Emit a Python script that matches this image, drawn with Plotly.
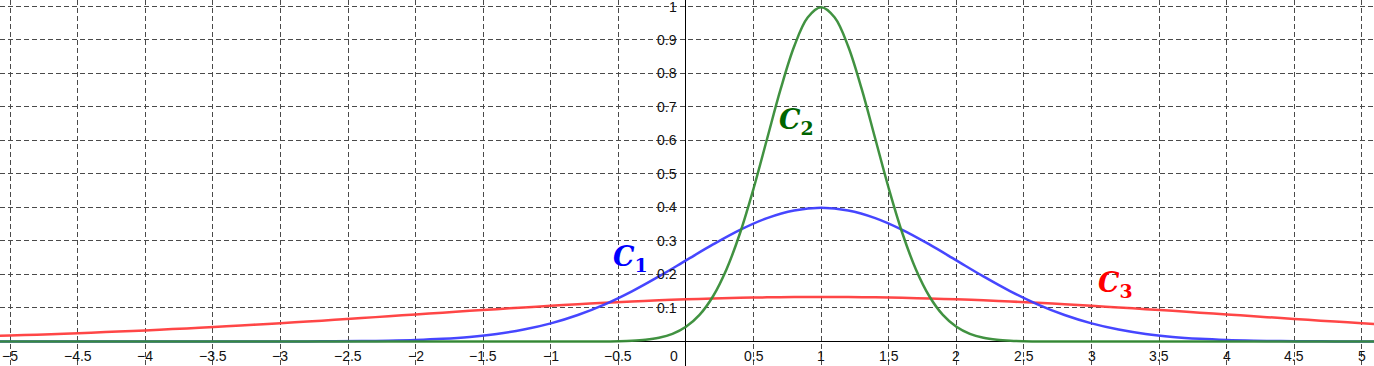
import plotly.graph_objects as go

# sample positions (x) and curve values
x_vals = [-5.2, -5.0, -4.8, -4.6, -4.4, -4.2, -4.0, -3.8, -3.6, -3.4,
          -3.2, -3.0, -2.8, -2.6, -2.4, -2.2, -2.0, -1.8, -1.6, -1.4,
          -1.2, -1.0, -0.8, -0.6, -0.4, -0.2, 0.0, 0.2, 0.4, 0.6,
          0.8, 1.0, 1.2, 1.4, 1.6, 1.8, 2.0, 2.2, 2.4, 2.6,
          2.8, 3.0, 3.2, 3.4, 3.6, 3.8, 4.0, 4.2, 4.4, 4.6,
          4.8, 5.0, 5.2]

c1_vals = [0, 0, 0, 0, 0, 0, 0, 0, 0, 0,
           0.0001, 0.0001, 0.0003, 0.0006, 0.0012, 0.0024, 0.0044, 0.0079, 0.0136, 0.0224,
           0.0355, 0.0540, 0.0790, 0.1109, 0.1497, 0.1942, 0.2420, 0.2897, 0.3332, 0.3683,
           0.3910, 0.3989, 0.3910, 0.3683, 0.3332, 0.2897, 0.2420, 0.1942, 0.1497, 0.1109,
           0.0790, 0.0540, 0.0355, 0.0224, 0.0136, 0.0079, 0.0044, 0.0024, 0.0012, 0.0006,
           0.0003, 0.0001, 0.0001]

c2_x = [-5.2, -1.0, -0.9, -0.8, -0.7, -0.6, -0.5, -0.4, -0.3, -0.2,
        -0.1, 0.0, 0.1, 0.2, 0.3, 0.4, 0.5, 0.6, 0.7, 0.8,
        0.9, 1.0, 1.1, 1.2, 1.3, 1.4, 1.5, 1.6, 1.7, 1.8,
        1.9, 2.0, 2.1, 2.2, 2.3, 2.4, 2.5, 2.6, 2.7, 2.8,
        2.9, 3.0, 5.2]

c2_vals = [0, 0, 0, 0, 0.0001, 0.0003, 0.0009, 0.0022, 0.0051, 0.0111,
           0.0227, 0.0438, 0.0793, 0.1350, 0.2157, 0.3238, 0.4566, 0.6049, 0.7528, 0.8802,
           0.9667, 0.9974, 0.9667, 0.8802, 0.7528, 0.6049, 0.4566, 0.3238, 0.2157, 0.1350,
           0.0793, 0.0438, 0.0227, 0.0111, 0.0051, 0.0022, 0.0009, 0.0003, 0.0001, 0,
           0, 0, 0]

c3_vals = [0.0157, 0.0180, 0.0205, 0.0233, 0.0263, 0.0296, 0.0332, 0.0370, 0.0410, 0.0454,
           0.0499, 0.0547, 0.0596, 0.0647, 0.0700, 0.0753, 0.0807, 0.0860, 0.0914, 0.0966,
           0.1016, 0.1065, 0.1111, 0.1154, 0.1193, 0.1228, 0.1258, 0.1284, 0.1304, 0.1318,
           0.1327, 0.1330, 0.1327, 0.1318, 0.1304, 0.1284, 0.1258, 0.1228, 0.1193, 0.1154,
           0.1111, 0.1065, 0.1016, 0.0966, 0.0914, 0.0860, 0.0807, 0.0753, 0.0700, 0.0647,
           0.0596, 0.0547, 0.0499]

x_ticks = [-5, -4.5, -4, -3.5, -3, -2.5, -2, -1.5, -1, -0.5,
           0.5, 1, 1.5, 2, 2.5, 3, 3.5, 4, 4.5, 5]
y_ticks = [0.1, 0.2, 0.3, 0.4, 0.5, 0.6, 0.7, 0.8, 0.9, 1]

curve_names = ["C1", "C2", "C3"]
curve_labels = ["C", "C", "C"]
curve_subs = ["1", "2", "3"]
label_x = [-0.41, 0.82, 3.18]
label_y = [0.249, 0.655, 0.169]

line_colors = ["rgba(60,60,255,0.95)", "rgba(55,140,55,0.95)", "rgba(255,60,60,0.95)"]
text_colors = ["#0000ff", "#006400", "#ff0000"]

fig = go.Figure()
xs = [x_vals, c2_x, x_vals]
series = [c1_vals, c2_vals, c3_vals]
order = [2, 0, 1]
for i in order:
    fig.add_trace(go.Scatter(
        x=xs[i], y=series[i], mode="lines", name=curve_names[i],
        line=dict(color=line_colors[i], width=2.5, shape="spline", smoothing=1.0),
        hoverinfo="skip", showlegend=False))

def fmt(v):
    s = ("%g" % abs(v))
    return ("\u2212" + s) if v < 0 else s

tick_font = dict(family="Liberation Sans, Arial, sans-serif", size=14, color="#111")
for v in x_ticks:
    fig.add_annotation(x=v, y=0, xref="x", yref="y", text=fmt(v), showarrow=False,
                       xanchor="center", yanchor="middle", yshift=-14, font=tick_font)
fig.add_annotation(x=0, y=0, xref="x", yref="y", text="0", showarrow=False,
                   xanchor="right", yanchor="middle", yshift=-14, xshift=-6, font=tick_font)
for v in y_ticks:
    fig.add_annotation(x=0, y=v, xref="x", yref="y", text=fmt(v), showarrow=False,
                       xanchor="right", yanchor="middle", xshift=-7,
                       yshift=(-1 if v == 1 else 0), font=tick_font)

for i in range(3):
    fig.add_annotation(x=label_x[i], y=label_y[i], xref="x", yref="y",
                       text="<b><i>%s</i></b><b><sub>%s</sub></b>" % (curve_labels[i], curve_subs[i]),
                       showarrow=False, xanchor="center", yanchor="middle",
                       font=dict(family="DejaVu Serif, serif", size=27,
                                 color=text_colors[i]))

grid_color = "#4a4a4a"
fig.update_xaxes(range=[-5.074, 5.089], dtick=0.5, tick0=0, showgrid=True,
                 gridcolor=grid_color, griddash="5px,3px", gridwidth=1,
                 zeroline=True, zerolinecolor="#000", zerolinewidth=1.3,
                 showticklabels=False, ticks="", showline=False, fixedrange=True)
fig.update_yaxes(range=[-0.0731, 1.019], dtick=0.1, tick0=0, showgrid=True,
                 gridcolor=grid_color, griddash="5px,3px", gridwidth=1,
                 zeroline=True, zerolinecolor="#000", zerolinewidth=1.3,
                 showticklabels=False, ticks="", showline=False, fixedrange=True)
fig.update_layout(width=1374, height=366, margin=dict(l=0, r=0, t=0, b=0),
                  plot_bgcolor="white", paper_bgcolor="white")
fig.write_html("out.html")
